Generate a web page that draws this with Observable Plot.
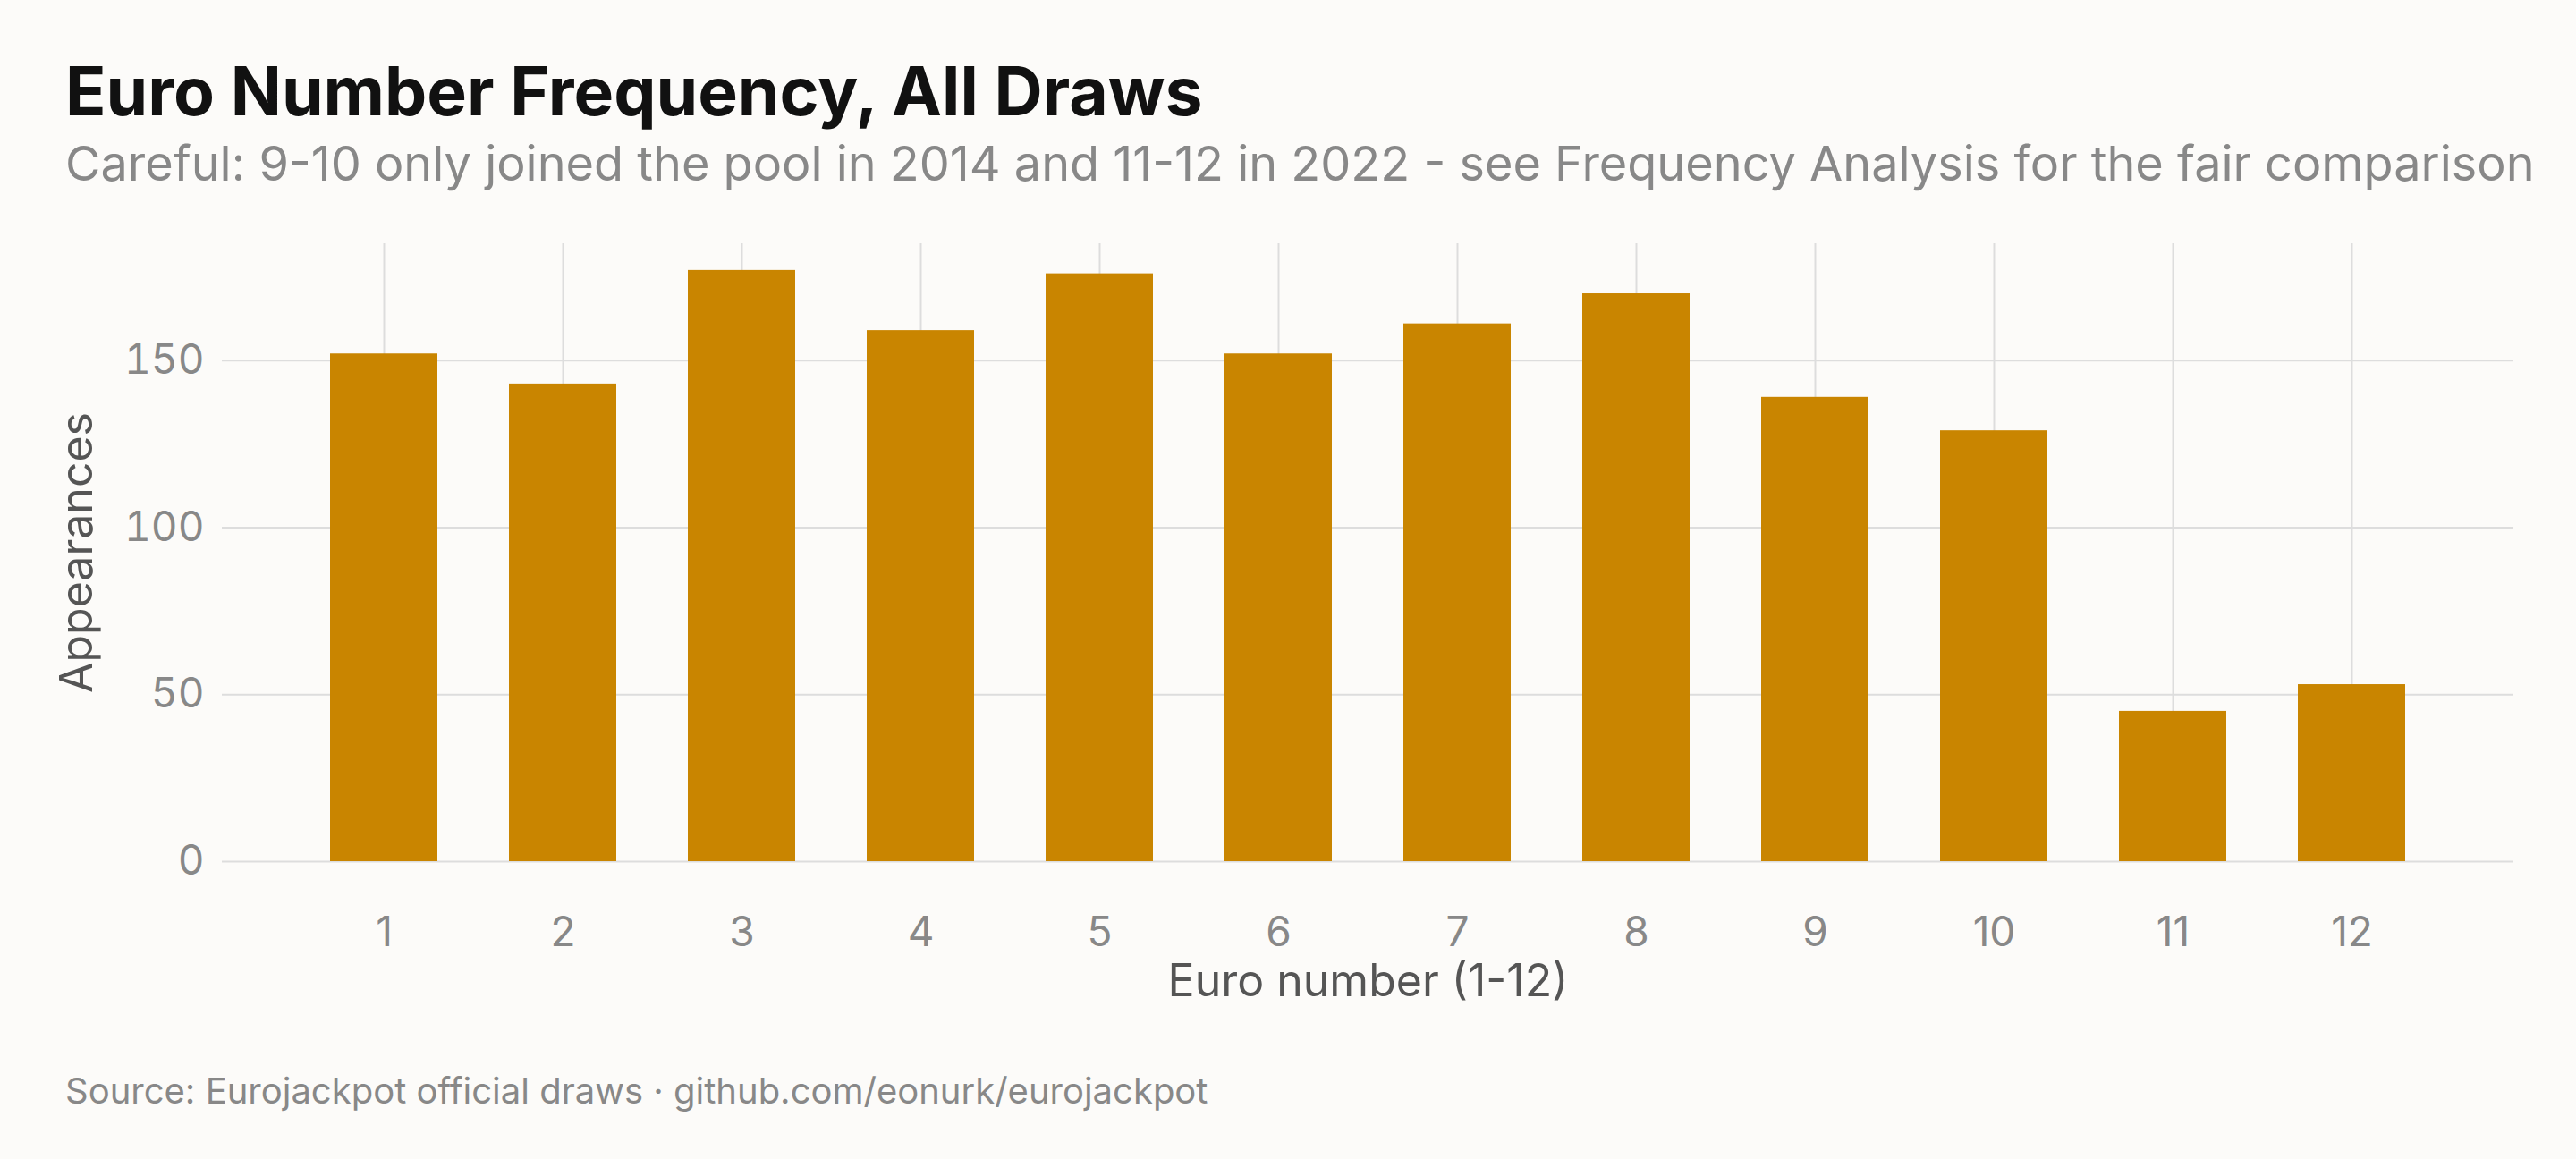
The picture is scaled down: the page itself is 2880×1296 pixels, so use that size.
<!DOCTYPE html>
<html><head><meta charset="utf-8">
<script src="https://cdn.jsdelivr.net/npm/d3@7"></script>
<script src="https://cdn.jsdelivr.net/npm/@observablehq/plot@0.6"></script>
<style>
html,body{margin:0;background:#fcfbf9;font-family:Inter,sans-serif;}
#t{position:absolute;left:73px;top:56px;font-size:75px;font-weight:700;color:#111;}
#s{position:absolute;left:73px;top:150px;font-size:54px;color:#888;}
#c{position:absolute;left:0;top:250px;}
#f{position:absolute;left:73px;top:1195px;font-size:40px;color:#888;}
</style></head><body>
<div id="t">Euro Number Frequency, All Draws</div>
<div id="s">Careful: 9-10 only joined the pool in 2014 and 11-12 in 2022 - see Frequency Analysis for the fair comparison</div>
<div id="c"></div>
<div id="f">Source: Eurojackpot official draws · github.com/eonurk/eurojackpot</div>
<script>
const numbers = [1,2,3,4,5,6,7,8,9,10,11,12];
const counts = [152,143,177,159,176,152,161,170,139,129,45,53];
const yTicks = [0,50,100,150];
const data = numbers.map((n,i)=>({n, c:counts[i]}));
const chart = Plot.plot({
  width:2880, height:900,
  marginLeft:248, marginRight:70, marginTop:22, marginBottom:187,
  style:{background:"transparent", fontFamily:"Inter,sans-serif", fontSize:"46px", color:"#888"},
  x:{domain:numbers, paddingInner:0.4, paddingOuter:0.6, label:null},
  y:{domain:[0,185], ticks:yTicks, label:null},
  marks:[
    Plot.gridY(yTicks,{stroke:"#ddd", strokeOpacity:1, strokeWidth:2}),
    Plot.gridX(numbers,{stroke:"#ddd", strokeOpacity:1, strokeWidth:2}),
    Plot.barY(data,{x:"n", y:"c", fill:"#c98500"}),
    Plot.axisX({tickSize:0, tickPadding:62, fill:"#888", fontSize:46}),
    Plot.axisY(yTicks,{tickSize:0, tickPadding:20, fill:"#888", fontSize:46}),
    Plot.text(["Euro number (1-12)"],{frameAnchor:"bottom", dy:150, fill:"#555", fontSize:50}),
    Plot.text(["Appearances"],{frameAnchor:"left", dx:-162, rotate:-90, textAnchor:"middle", fill:"#555", fontSize:50})
  ]
});
document.getElementById("c").appendChild(chart);
</script></body></html>
